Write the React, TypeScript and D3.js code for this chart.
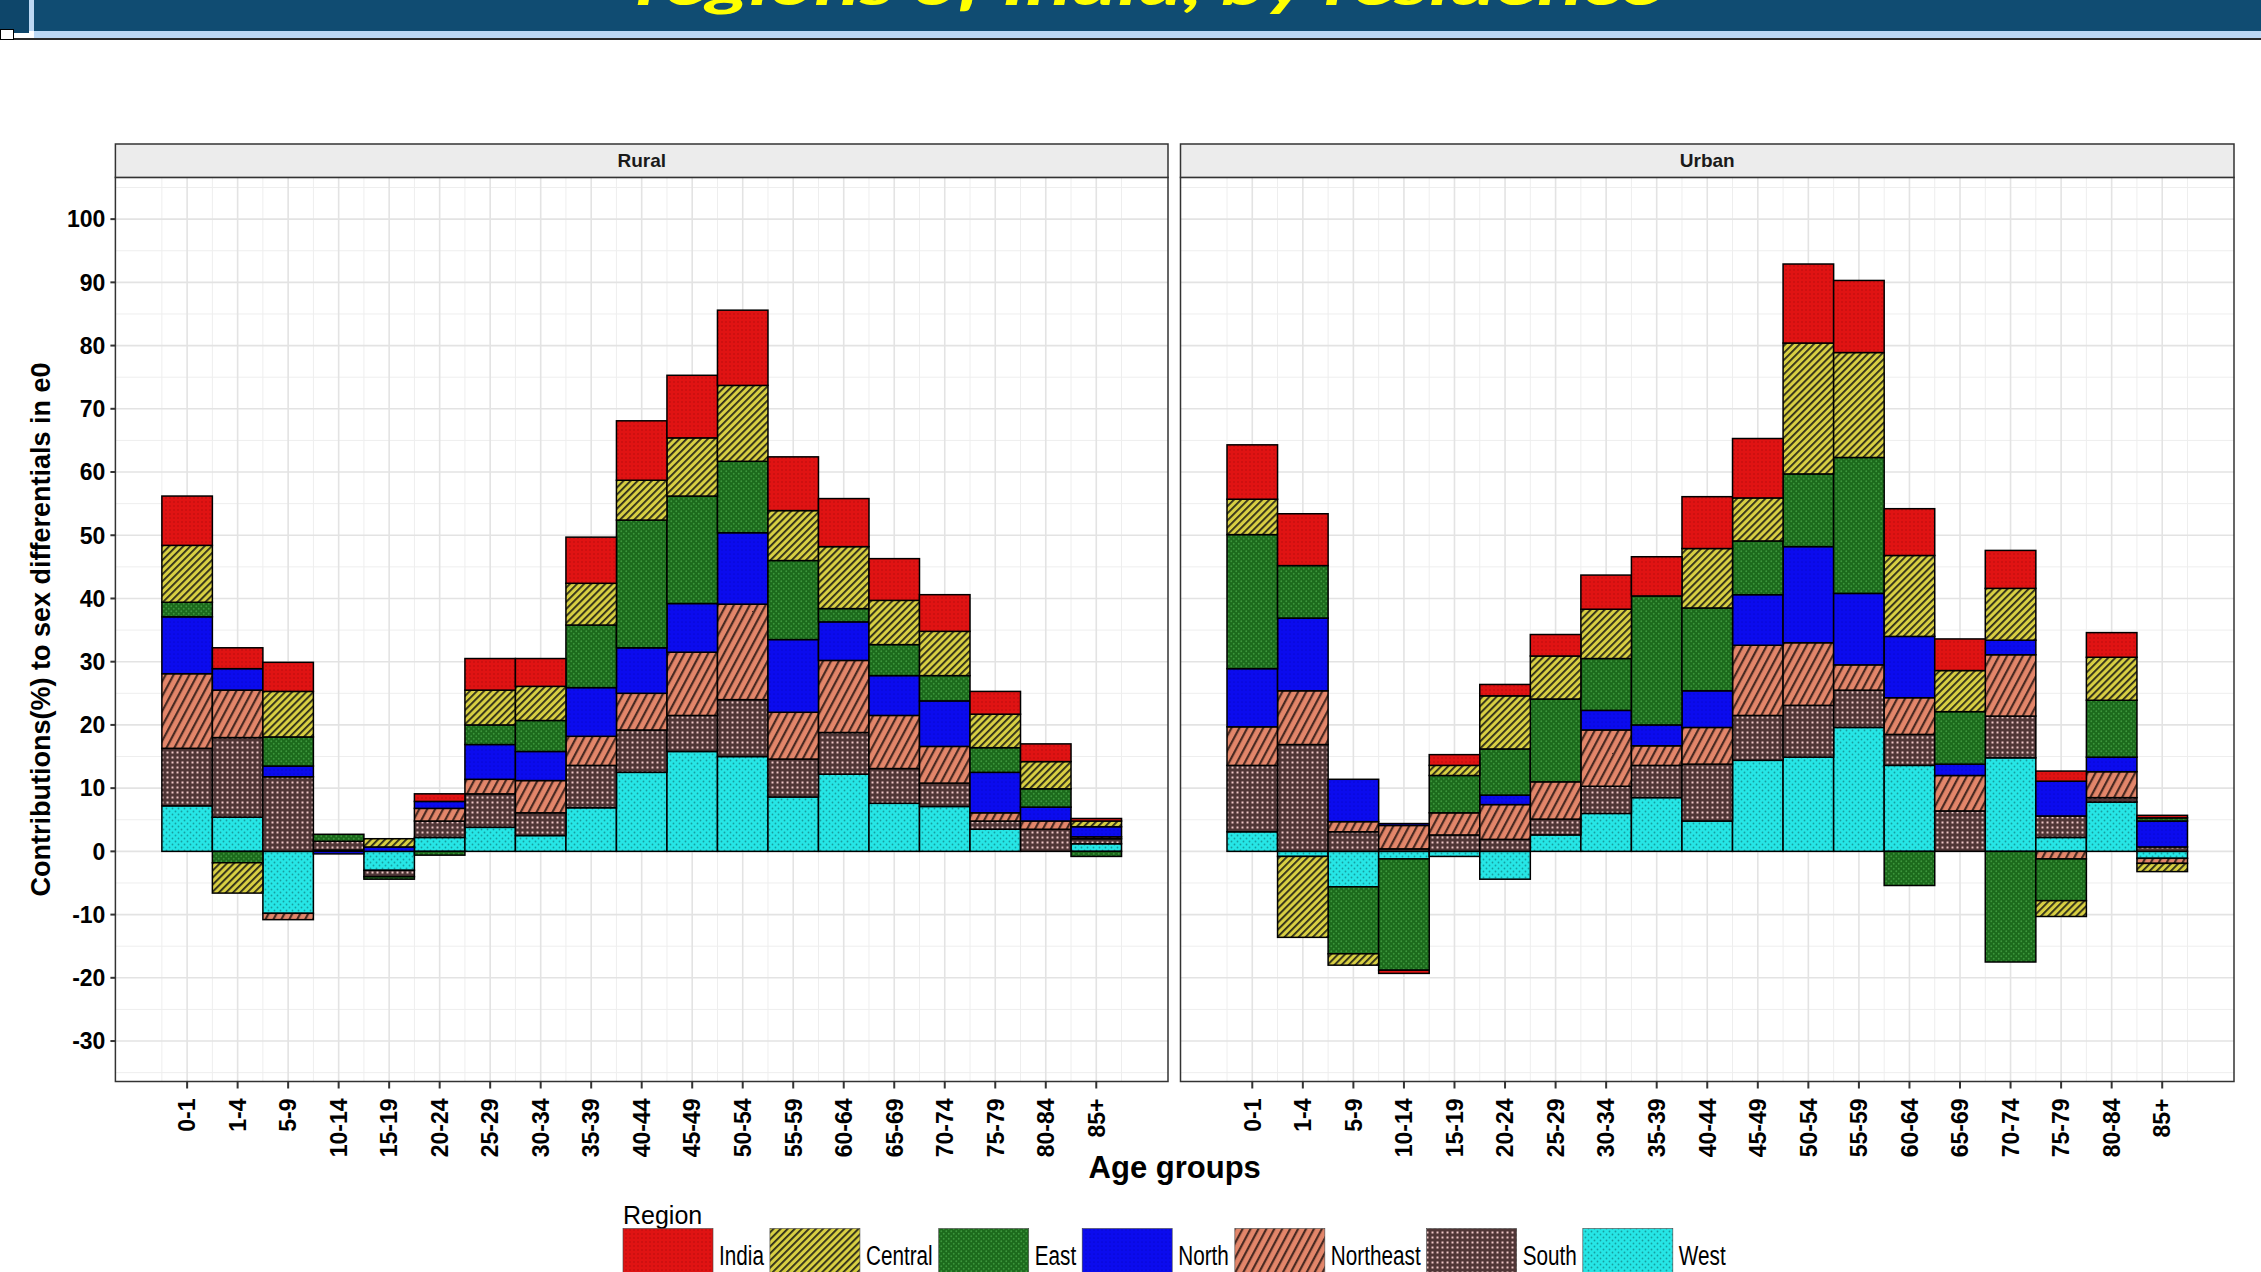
import * as d3 from "d3";

// age groups on the x axis
const ageGroups = ["0-1", "1-4", "5-9", "10-14", "15-19", "20-24", "25-29", "30-34", "35-39", "40-44", "45-49", "50-54", "55-59", "60-64", "65-69", "70-74", "75-79", "80-84", "85+"];

// legend order, and stacking order from zero outwards
const regions = ["India", "Central", "East", "North", "Northeast", "South", "West"];
const stackOrder = ["West", "South", "Northeast", "North", "East", "Central", "India"];

const yTicks = [-30, -20, -10, 0, 10, 20, 30, 40, 50, 60, 70, 80, 90, 100];

// Rural contributions (%)
const ruralIndia = [7.8, 3.3, 4.6, 0, 0, 1.2, 5.0, 4.4, 7.3, 9.4, 9.9, 11.9, 8.5, 7.6, 6.6, 5.8, 3.6, 2.8, 0.4];
const ruralCentral = [9.0, -4.8, 7.2, 0, 1.3, 0, 5.5, 5.4, 6.6, 6.3, 9.2, 12.0, 7.9, 9.8, 7.0, 7.0, 5.3, 4.3, 0.9];
const ruralEast = [2.3, -1.8, 4.6, 1.1, -0.4, -0.6, 3.1, 4.9, 9.9, 20.2, 17.0, 11.3, 12.5, 2.1, 4.9, 4.0, 3.9, 2.9, -0.8];
const ruralNorth = [9.0, 3.4, 1.7, -0.4, 0.7, 1.1, 5.5, 4.6, 7.7, 7.2, 7.7, 11.3, 11.5, 6.1, 6.3, 7.2, 6.4, 2.2, 1.6];
const ruralNortheast = [11.8, 7.5, -1.0, 0, 0, 2.0, 2.3, 5.1, 4.6, 5.8, 10.0, 15.1, 7.4, 11.4, 8.4, 5.8, 1.3, 1.3, 0.3];
const ruralSouth = [9.1, 12.6, 11.8, 1.4, -1.0, 2.6, 5.3, 3.6, 6.7, 6.7, 5.7, 9.0, 6.0, 6.6, 5.5, 3.7, 1.3, 3.5, 0.8];
const ruralWest = [7.2, 5.4, -9.8, 0.2, -3.0, 2.2, 3.8, 2.5, 6.9, 12.5, 15.8, 15.0, 8.6, 12.2, 7.6, 7.1, 3.5, 0, 1.2];

// Urban contributions (%)
const urbanIndia = [8.6, 8.2, 0, -0.5, 1.7, 1.8, 3.4, 5.4, 6.2, 8.2, 9.4, 12.5, 11.4, 7.4, 5.0, 6.0, 1.6, 3.9, 0.4];
const urbanCentral = [5.6, -12.8, -1.8, 0, 1.6, 8.4, 6.8, 7.8, 0, 9.4, 6.8, 20.7, 16.6, 12.8, 6.5, 8.2, -2.5, 6.8, -1.3];
const urbanEast = [21.2, 8.3, -10.6, -17.6, 5.9, 7.3, 13.1, 8.2, 20.4, 13.1, 8.5, 11.5, 21.5, -5.4, 8.3, -17.5, -6.6, 9.0, 0.5];
const urbanNorth = [9.2, 11.5, 6.7, 0.3, 0, 1.5, 0, 3.1, 3.3, 5.8, 8.0, 15.2, 11.3, 9.7, 1.8, 2.3, 5.5, 2.3, 4.1];
const urbanNortheast = [6.1, 8.5, 1.6, 3.7, 3.5, 5.5, 5.9, 8.9, 3.1, 5.8, 11.1, 9.9, 4.0, 5.8, 5.6, 9.7, -1.2, 4.1, -0.8];
const urbanSouth = [10.5, 16.9, 3.1, 0.4, 2.6, 1.9, 2.5, 4.3, 5.1, 9.0, 7.1, 8.2, 5.9, 4.9, 6.4, 6.6, 3.4, 0.7, 0.7];
const urbanWest = [3.1, -0.8, -5.6, -1.2, -0.8, -4.4, 2.6, 6.0, 8.5, 4.8, 14.4, 14.9, 19.6, 13.6, 0, 14.8, 2.2, 7.8, -1.1];

const ruralSeries: Record<string, number[]> = {
  India: ruralIndia, Central: ruralCentral, East: ruralEast, North: ruralNorth,
  Northeast: ruralNortheast, South: ruralSouth, West: ruralWest,
};
const urbanSeries: Record<string, number[]> = {
  India: urbanIndia, Central: urbanCentral, East: urbanEast, North: urbanNorth,
  Northeast: urbanNortheast, South: urbanSouth, West: urbanWest,
};

type Row = { [k: string]: number | string };

function toRows(series: Record<string, number[]>): Row[] {
  return ageGroups.map((age, i) => {
    const r: Row = { age };
    regions.forEach((reg) => (r[reg] = series[reg][i]));
    return r;
  });
}

const W = 2261;
const H = 1272;
const panelTop = 177.4;
const panelBottom = 1081.5;
const stripTop = 144;

const y = d3.scaleLinear().domain([-36.4, 106.6]).range([panelBottom, panelTop]);

const patternId: Record<string, string> = {
  India: "pIndia", Central: "pCentral", East: "pEast", North: "pNorth",
  Northeast: "pNortheast", South: "pSouth", West: "pWest",
};

const stack = d3.stack<Row>().keys(stackOrder).value((d, k) => d[k] as number).offset(d3.stackOffsetDiverging);

function Panel({ title, x0, x1, series, showY }: { title: string; x0: number; x1: number; series: Record<string, number[]>; showY: boolean }) {
  const x = d3.scaleBand().domain(ageGroups).range([x0, x1]).paddingInner(0).paddingOuter(0.92);
  const bw = x.bandwidth();
  const step = x.step();
  const stacked = stack(toRows(series));
  const centers = ageGroups.map((a) => (x(a) as number) + bw / 2);
  const minorX = [centers[0] - step / 2, ...centers.map((c) => c + step / 2)];
  const minorY = d3.range(-35, 106, 10);
  return (
    <g>
      <rect x={x0} y={panelTop} width={x1 - x0} height={panelBottom - panelTop} fill="#fff" />
      {minorY.map((v) => (
        <line key={"my" + v} x1={x0} x2={x1} y1={y(v)} y2={y(v)} stroke="#eeeeee" strokeWidth={1} />
      ))}
      {minorX.map((v, i) => (
        <line key={"mx" + i} x1={v} x2={v} y1={panelTop} y2={panelBottom} stroke="#eeeeee" strokeWidth={1} />
      ))}
      {yTicks.map((v) => (
        <line key={"gy" + v} x1={x0} x2={x1} y1={y(v)} y2={y(v)} stroke="#e3e3e3" strokeWidth={1.6} />
      ))}
      {centers.map((c, i) => (
        <line key={"gx" + i} x1={c} x2={c} y1={panelTop} y2={panelBottom} stroke="#e3e3e3" strokeWidth={1.6} />
      ))}
      {stacked.map((s) => (
        <g key={s.key}>
          {s.map((d, i) => {
            const a = d[0];
            const b = d[1];
            if (Math.abs(b - a) < 1e-9) return null;
            const top = y(Math.max(a, b));
            const h = Math.abs(y(a) - y(b));
            return (
              <rect key={i} x={x(ageGroups[i]) as number} y={top} width={bw} height={h}
                fill={`url(#${patternId[s.key]})`} stroke="#000" strokeWidth={1.5} />
            );
          })}
        </g>
      ))}
      <rect x={x0} y={panelTop} width={x1 - x0} height={panelBottom - panelTop} fill="none" stroke="#333" strokeWidth={1.5} />
      <rect x={x0} y={stripTop} width={x1 - x0} height={panelTop - stripTop} fill="#ececec" stroke="#333" strokeWidth={1.5} />
      <text x={(x0 + x1) / 2} y={(stripTop + panelTop) / 2} dy="0.35em" textAnchor="middle" fontSize={19} fontWeight="bold" fill="#1a1a1a">{title}</text>
      {centers.map((c, i) => (
        <g key={"xt" + i}>
          <line x1={c} x2={c} y1={panelBottom} y2={panelBottom + 7} stroke="#333" strokeWidth={2} />
          <text transform={`translate(${c},${panelBottom + 17}) rotate(-90)`} textAnchor="end" dy="0.36em" fontSize={23} fontWeight="bold" fill="#000">{ageGroups[i]}</text>
        </g>
      ))}
      {showY && yTicks.map((v) => (
        <g key={"yt" + v}>
          <line x1={x0 - 5} x2={x0} y1={y(v)} y2={y(v)} stroke="#333" strokeWidth={2} />
          <text x={x0 - 10} y={y(v)} dy="0.36em" textAnchor="end" fontSize={23} fontWeight="bold" fill="#000">{v}</text>
        </g>
      ))}
    </g>
  );
}

const legendScale = 0.74;
const legendFont = 28;

function measure(text: string, font: string) {
  const c = document.createElement("canvas").getContext("2d");
  if (!c) return text.length * 14;
  c.font = font;
  return c.measureText(text).width;
}

export default function App() {
  const legendFontStr = `${legendFont}px 'Liberation Sans', Arial, sans-serif`;
  let lx = 623;
  const legendItems = regions.map((r) => {
    const keyX = lx;
    const labelX = keyX + 96;
    const w = measure(r, legendFontStr) * legendScale;
    lx = labelX + w + 6;
    return { r, keyX, labelX };
  });

  return (
    <svg width={W} height={H} style={{ position: "absolute", left: 0, top: 0 }} fontFamily="'Liberation Sans', Arial, sans-serif">
      <defs>
        <pattern id="pIndia" width="4" height="4" patternUnits="userSpaceOnUse">
          <rect width="4" height="4" fill="#e01313" />
          <circle cx="2" cy="2" r="0.7" fill="#b00a0a" />
        </pattern>
        <pattern id="pCentral" width="5" height="5" patternUnits="userSpaceOnUse" patternTransform="rotate(45)">
          <rect width="5" height="5" fill="#d8cf42" />
          <rect width="1.8" height="5" fill="#2b2a18" />
        </pattern>
        <pattern id="pEast" width="5" height="5" patternUnits="userSpaceOnUse">
          <rect width="5" height="5" fill="#1c6a1c" />
          <circle cx="1.25" cy="1.25" r="0.9" fill="#3c963c" />
          <circle cx="3.75" cy="3.75" r="0.9" fill="#3c963c" />
        </pattern>
        <pattern id="pNorth" width="4" height="4" patternUnits="userSpaceOnUse">
          <rect width="4" height="4" fill="#0b0bee" />
          <circle cx="2" cy="2" r="0.6" fill="#0000b8" />
        </pattern>
        <pattern id="pNortheast" width="7" height="7" patternUnits="userSpaceOnUse" patternTransform="rotate(28)">
          <rect width="7" height="7" fill="#e3866a" />
          <rect width="2.2" height="7" fill="#4a2a22" />
        </pattern>
        <pattern id="pSouth" width="5" height="5" patternUnits="userSpaceOnUse">
          <rect width="5" height="5" fill="#4f3636" />
          <rect x="1.5" y="1.5" width="2" height="2" fill="#ecc6c6" />
        </pattern>
        <pattern id="pWest" width="6" height="6" patternUnits="userSpaceOnUse">
          <rect width="6" height="6" fill="#26e6e6" />
          <circle cx="1.5" cy="1.5" r="0.9" fill="#179e9e" />
          <circle cx="4.5" cy="4.5" r="0.9" fill="#179e9e" />
        </pattern>
      </defs>

      <rect width={W} height={H} fill="#fff" />

      {/* slide banner */}
      <rect x={0} y={0} width={W} height={31} fill="#104c72" />
      <rect x={29} y={0} width={5} height={31} fill="#bcd8f4" />
      <rect x={0} y={0} width={29} height={33} fill="#0e466a" />
      <rect x={34} y={31} width={W - 34} height={7} fill="#bcd8f4" />
      <rect x={0} y={38} width={W} height={2} fill="#2a2a2a" />
      <rect x={0.5} y={29.5} width={13} height={10} fill="#fff" stroke="#000" strokeWidth={1} />
      <text x={1149} y={5} textAnchor="middle" fontFamily="Lato, 'Open Sans', sans-serif" fontStyle="italic" fontWeight={700} fontSize={56} fill="#ffff00" textLength={1026} lengthAdjust="spacingAndGlyphs">regions of India, by residence</text>

      <Panel title="Rural" x0={115.4} x1={1168} series={ruralSeries} showY={true} />
      <Panel title="Urban" x0={1180.5} x1={2234} series={urbanSeries} showY={false} />

      <text x={1174.7} y={1178} textAnchor="middle" fontSize={31} fontWeight="bold" fill="#000">Age groups</text>
      <text transform={`translate(50,${(panelTop + panelBottom) / 2}) rotate(-90)`} textAnchor="middle" fontSize={27} fontWeight="bold" fill="#000">Contributions(%) to sex differentials in e0</text>

      {/* legend */}
      <text x={623} y={1224} fontSize={25} fill="#000">Region</text>
      {legendItems.map((it) => (
        <g key={it.r}>
          <rect x={it.keyX} y={1228.5} width={90} height={60} fill={`url(#${patternId[it.r]})`} stroke="#444" strokeWidth={0.6} />
          <text transform={`translate(${it.labelX},1265) scale(${legendScale},1)`} fontSize={legendFont} fill="#000">{it.r}</text>
        </g>
      ))}
    </svg>
  );
}
